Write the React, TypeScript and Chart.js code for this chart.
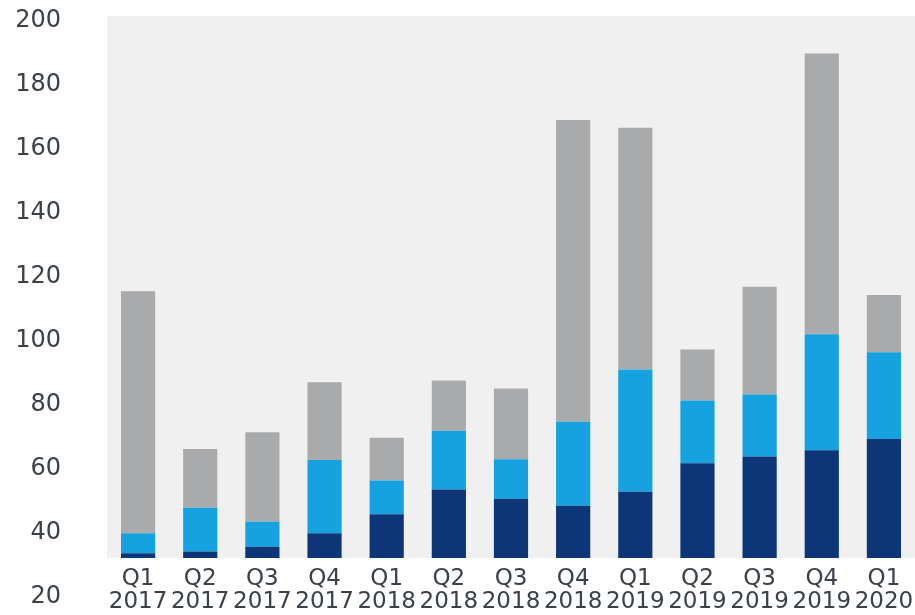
import React, { useEffect, useRef } from "react";
import { Chart, registerables } from "chart.js";

Chart.register(...registerables);

const quarters = ["Q1", "Q2", "Q3", "Q4", "Q1", "Q2", "Q3", "Q4", "Q1", "Q2", "Q3", "Q4", "Q1"];
const years = ["2017", "2017", "2017", "2017", "2018", "2018", "2018", "2018", "2019", "2019", "2019", "2019", "2020"];

// stacked segment values
const navySeries = [33.7, 34.2, 35.7, 39.9, 45.9, 53.6, 50.7, 48.5, 52.9, 61.8, 63.9, 65.9, 69.4];
const blueSeries = [6.2, 13.7, 7.8, 22.9, 10.5, 18.4, 12.4, 26.3, 38.2, 19.6, 19.4, 36.2, 27.1];
const graySeries = [75.7, 18.4, 28.0, 24.3, 13.4, 15.7, 22.1, 94.3, 75.6, 16.0, 33.7, 87.8, 17.9];

const yTickValues = [20, 40, 60, 80, 100, 120, 140, 160, 180, 200];
const yMin = 32.2;
const yMax = 201.6;

const bgPlugin = {
  id: "plotBg",
  beforeDraw(chart: any) {
    const { ctx, chartArea } = chart;
    if (!chartArea) return;
    ctx.save();
    ctx.fillStyle = "#f0f0f0";
    ctx.fillRect(chartArea.left, chartArea.top, chartArea.right - chartArea.left, chartArea.bottom - chartArea.top);
    ctx.restore();
  },
};

export default function App() {
  const ref = useRef<HTMLCanvasElement | null>(null);

  useEffect(() => {
    if (!ref.current) return;
    const labels = quarters.map((q, i) => [q, years[i]]);
    const chart = new Chart(ref.current, {
      type: "bar",
      data: {
        labels,
        datasets: [
          { label: "navy", data: navySeries, backgroundColor: "#0c3678", clip: 0 as any },
          { label: "blue", data: blueSeries, backgroundColor: "#16a2e0", clip: 0 as any },
          { label: "gray", data: graySeries, backgroundColor: "#a9aaac", clip: 0 as any },
        ],
      },
      options: {
        animation: false,
        responsive: false,
        devicePixelRatio: 1,
        layout: { padding: { top: 16, left: 0, right: 0, bottom: 0 } },
        datasets: { bar: { barPercentage: 0.55, categoryPercentage: 1 } },
        plugins: { legend: { display: false }, tooltip: { enabled: false } },
        scales: {
          x: {
            stacked: true,
            grid: { display: false, drawTicks: false },
            border: { display: false },
            ticks: {
              autoSkip: false,
              maxRotation: 0,
              minRotation: 0,
              padding: 10,
              color: "#3a4147",
              font: { family: "'DejaVu Sans', sans-serif", size: 23, lineHeight: 1.0 },
            },
            afterFit(scale: any) {
              scale.height = 57;
              scale.paddingLeft = 0;
              scale.paddingRight = 0;
            },
          },
          y: {
            stacked: true,
            min: yMin,
            max: yMax,
            grid: { display: false, drawTicks: false },
            border: { display: false },
            ticks: {
              padding: 46,
              color: "#3a4147",
              font: { family: "'DejaVu Sans', sans-serif", size: 24 },
            },
            afterBuildTicks(scale: any) {
              scale.ticks = yTickValues.map((v) => ({ value: v }));
            },
            afterFit(scale: any) {
              scale.width = 107;
              scale.paddingTop = 0;
              scale.paddingBottom = 0;
            },
          },
        },
      },
      plugins: [bgPlugin],
    });
    return () => chart.destroy();
  }, []);

  return (
    <div style={{ position: "absolute", left: 0, top: 0, width: 915, height: 615, background: "#fff" }}>
      <canvas ref={ref} width={915} height={615} style={{ width: 915, height: 615, display: "block" }} />
    </div>
  );
}
